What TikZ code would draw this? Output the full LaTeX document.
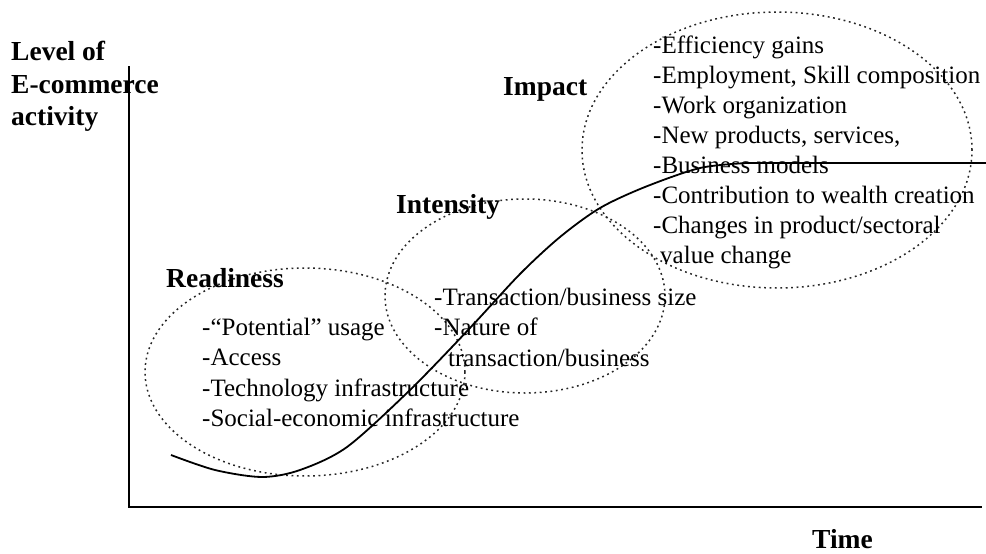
\documentclass[tikz,border=0pt]{standalone}
\usepackage{fontspec}
\setmainfont{Liberation Serif}
\usepackage{tikz}
\usetikzlibrary{calc}

\begin{document}
\begin{tikzpicture}[x=1pt, y=-1pt,
    phase/.style={line width=1.5pt, dash pattern=on 1.8pt off 3.6pt, black!85},
    axis/.style={line width=2.4pt},
    curve/.style={line width=1.8pt},
    lbl/.style={anchor=base west, inner sep=0pt, font=\fontsize{27.5}{32}\selectfont\bfseries},
    item/.style={anchor=base west, inner sep=0pt, font=\fontsize{25}{30}\selectfont}]
            \useasboundingbox (0,0) rectangle (986,554);

            \draw[phase] (305,372) ellipse [x radius=160pt, y radius=104pt];
            \draw[phase] (525,296) ellipse [x radius=140pt, y radius=97pt];
            \draw[phase] (777,150) ellipse [x radius=195pt, y radius=138pt];

            \coordinate (o) at (129,507);
            \coordinate (ytop) at (129,66);
            \coordinate (xend) at (982,507);
            \draw[axis] (ytop)--(o)--(xend);

            \node[lbl] (lev1) at (11,60) {Level of};
            \node[lbl] (lev2) at (11,93) {E-commerce};
            \node[lbl] (lev3) at (11,125) {activity};
            \node[lbl] (time) at (812,548) {Time};

            \node[lbl] (ready) at (166,287) {Readiness};
            \node[lbl] (inten) at (396,213) {Intensity};
            \node[lbl] (impact) at (503,95) {Impact};

            \foreach \t [count=\i] in {-“Potential” usage, -Access, -Technology infrastructure, -Social-economic infrastructure} {
                \node[item] (rd\i) at (202,{335+30.5*(\i-1)}) {\t};
            }

            \node[item] (in1) at (434,305) {-Transaction/business size};
            \node[item] (in2) at (434,335.5) {-Nature of};
            \node[item] (in3) at (448,366) {transaction/business};

            \foreach \t [count=\i] in {-Efficiency gains, {-Employment, Skill composition}, -Work organization, {-New products, services,}, -Business models, -Contribution to wealth creation, -Changes in product/sectoral} {
                \node[item] (im\i) at (653,{53+30*(\i-1)}) {\t};
            }
            \node[item] (im8) at (660,263) {value change};

            \coordinate (cend) at (986,163);
            \draw[curve] plot[smooth, tension=0.5] coordinates {(171,455) (215,470) (262,477) (300,470) (347,447) (410,390) (470,328) (520,274) (560,237) (600,208) (645,187) (700,168) (747,163)} -- (cend);
        \end{tikzpicture}
\end{document}
